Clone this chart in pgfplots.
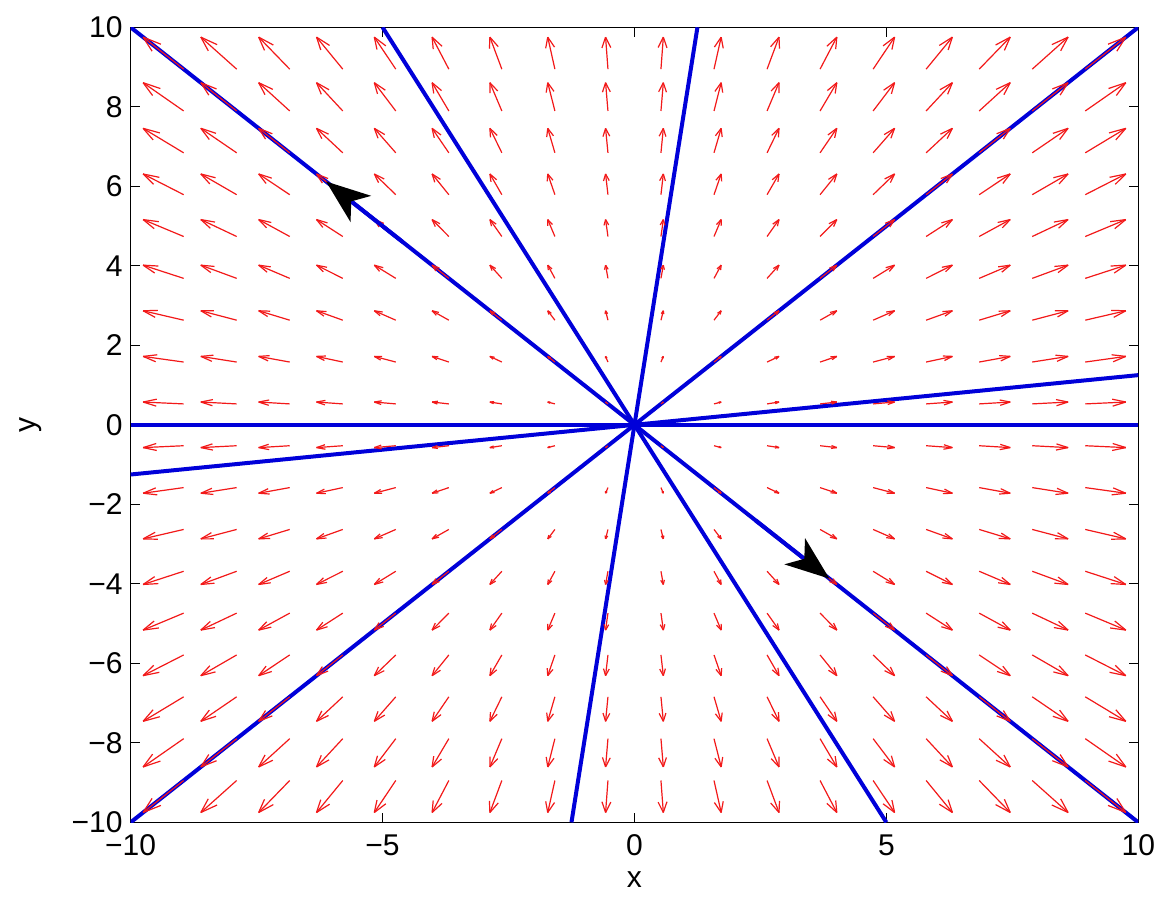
\documentclass[border=0pt]{standalone}
\usepackage{pgfplots}
\pgfplotsset{compat=1.18}
\usepackage{pgfplotstable}
\usepackage{fontspec}
\setmainfont{Liberation Sans}
\usetikzlibrary{arrows.meta}
\definecolor{trajblue}{rgb}{0.0,0.0,0.85}
\definecolor{quivred}{rgb}{0.95,0.1,0.1}

\pgfplotstableread{
x y u v
-8.947 -8.947 -0.805 -0.805
-7.895 -8.947 -0.711 -0.805
-6.842 -8.947 -0.616 -0.805
-5.789 -8.947 -0.521 -0.805
-4.737 -8.947 -0.426 -0.805
-3.684 -8.947 -0.332 -0.805
-2.632 -8.947 -0.237 -0.805
-1.579 -8.947 -0.142 -0.805
-0.526 -8.947 -0.047 -0.805
0.526 -8.947 0.047 -0.805
1.579 -8.947 0.142 -0.805
2.632 -8.947 0.237 -0.805
3.684 -8.947 0.332 -0.805
4.737 -8.947 0.426 -0.805
5.789 -8.947 0.521 -0.805
6.842 -8.947 0.616 -0.805
7.895 -8.947 0.711 -0.805
8.947 -8.947 0.805 -0.805
-8.947 -7.895 -0.805 -0.711
-7.895 -7.895 -0.711 -0.711
-6.842 -7.895 -0.616 -0.711
-5.789 -7.895 -0.521 -0.711
-4.737 -7.895 -0.426 -0.711
-3.684 -7.895 -0.332 -0.711
-2.632 -7.895 -0.237 -0.711
-1.579 -7.895 -0.142 -0.711
-0.526 -7.895 -0.047 -0.711
0.526 -7.895 0.047 -0.711
1.579 -7.895 0.142 -0.711
2.632 -7.895 0.237 -0.711
3.684 -7.895 0.332 -0.711
4.737 -7.895 0.426 -0.711
5.789 -7.895 0.521 -0.711
6.842 -7.895 0.616 -0.711
7.895 -7.895 0.711 -0.711
8.947 -7.895 0.805 -0.711
-8.947 -6.842 -0.805 -0.616
-7.895 -6.842 -0.711 -0.616
-6.842 -6.842 -0.616 -0.616
-5.789 -6.842 -0.521 -0.616
-4.737 -6.842 -0.426 -0.616
-3.684 -6.842 -0.332 -0.616
-2.632 -6.842 -0.237 -0.616
-1.579 -6.842 -0.142 -0.616
-0.526 -6.842 -0.047 -0.616
0.526 -6.842 0.047 -0.616
1.579 -6.842 0.142 -0.616
2.632 -6.842 0.237 -0.616
3.684 -6.842 0.332 -0.616
4.737 -6.842 0.426 -0.616
5.789 -6.842 0.521 -0.616
6.842 -6.842 0.616 -0.616
7.895 -6.842 0.711 -0.616
8.947 -6.842 0.805 -0.616
-8.947 -5.789 -0.805 -0.521
-7.895 -5.789 -0.711 -0.521
-6.842 -5.789 -0.616 -0.521
-5.789 -5.789 -0.521 -0.521
-4.737 -5.789 -0.426 -0.521
-3.684 -5.789 -0.332 -0.521
-2.632 -5.789 -0.237 -0.521
-1.579 -5.789 -0.142 -0.521
-0.526 -5.789 -0.047 -0.521
0.526 -5.789 0.047 -0.521
1.579 -5.789 0.142 -0.521
2.632 -5.789 0.237 -0.521
3.684 -5.789 0.332 -0.521
4.737 -5.789 0.426 -0.521
5.789 -5.789 0.521 -0.521
6.842 -5.789 0.616 -0.521
7.895 -5.789 0.711 -0.521
8.947 -5.789 0.805 -0.521
-8.947 -4.737 -0.805 -0.426
-7.895 -4.737 -0.711 -0.426
-6.842 -4.737 -0.616 -0.426
-5.789 -4.737 -0.521 -0.426
-4.737 -4.737 -0.426 -0.426
-3.684 -4.737 -0.332 -0.426
-2.632 -4.737 -0.237 -0.426
-1.579 -4.737 -0.142 -0.426
-0.526 -4.737 -0.047 -0.426
0.526 -4.737 0.047 -0.426
1.579 -4.737 0.142 -0.426
2.632 -4.737 0.237 -0.426
3.684 -4.737 0.332 -0.426
4.737 -4.737 0.426 -0.426
5.789 -4.737 0.521 -0.426
6.842 -4.737 0.616 -0.426
7.895 -4.737 0.711 -0.426
8.947 -4.737 0.805 -0.426
-8.947 -3.684 -0.805 -0.332
-7.895 -3.684 -0.711 -0.332
-6.842 -3.684 -0.616 -0.332
-5.789 -3.684 -0.521 -0.332
-4.737 -3.684 -0.426 -0.332
-3.684 -3.684 -0.332 -0.332
-2.632 -3.684 -0.237 -0.332
-1.579 -3.684 -0.142 -0.332
-0.526 -3.684 -0.047 -0.332
0.526 -3.684 0.047 -0.332
1.579 -3.684 0.142 -0.332
2.632 -3.684 0.237 -0.332
3.684 -3.684 0.332 -0.332
4.737 -3.684 0.426 -0.332
5.789 -3.684 0.521 -0.332
6.842 -3.684 0.616 -0.332
7.895 -3.684 0.711 -0.332
8.947 -3.684 0.805 -0.332
-8.947 -2.632 -0.805 -0.237
-7.895 -2.632 -0.711 -0.237
-6.842 -2.632 -0.616 -0.237
-5.789 -2.632 -0.521 -0.237
-4.737 -2.632 -0.426 -0.237
-3.684 -2.632 -0.332 -0.237
-2.632 -2.632 -0.237 -0.237
-1.579 -2.632 -0.142 -0.237
-0.526 -2.632 -0.047 -0.237
0.526 -2.632 0.047 -0.237
1.579 -2.632 0.142 -0.237
2.632 -2.632 0.237 -0.237
3.684 -2.632 0.332 -0.237
4.737 -2.632 0.426 -0.237
5.789 -2.632 0.521 -0.237
6.842 -2.632 0.616 -0.237
7.895 -2.632 0.711 -0.237
8.947 -2.632 0.805 -0.237
-8.947 -1.579 -0.805 -0.142
-7.895 -1.579 -0.711 -0.142
-6.842 -1.579 -0.616 -0.142
-5.789 -1.579 -0.521 -0.142
-4.737 -1.579 -0.426 -0.142
-3.684 -1.579 -0.332 -0.142
-2.632 -1.579 -0.237 -0.142
-1.579 -1.579 -0.142 -0.142
-0.526 -1.579 -0.047 -0.142
0.526 -1.579 0.047 -0.142
1.579 -1.579 0.142 -0.142
2.632 -1.579 0.237 -0.142
3.684 -1.579 0.332 -0.142
4.737 -1.579 0.426 -0.142
5.789 -1.579 0.521 -0.142
6.842 -1.579 0.616 -0.142
7.895 -1.579 0.711 -0.142
8.947 -1.579 0.805 -0.142
-8.947 -0.526 -0.805 -0.047
-7.895 -0.526 -0.711 -0.047
-6.842 -0.526 -0.616 -0.047
-5.789 -0.526 -0.521 -0.047
-4.737 -0.526 -0.426 -0.047
-3.684 -0.526 -0.332 -0.047
-2.632 -0.526 -0.237 -0.047
-1.579 -0.526 -0.142 -0.047
-0.526 -0.526 -0.047 -0.047
0.526 -0.526 0.047 -0.047
1.579 -0.526 0.142 -0.047
2.632 -0.526 0.237 -0.047
3.684 -0.526 0.332 -0.047
4.737 -0.526 0.426 -0.047
5.789 -0.526 0.521 -0.047
6.842 -0.526 0.616 -0.047
7.895 -0.526 0.711 -0.047
8.947 -0.526 0.805 -0.047
-8.947 0.526 -0.805 0.047
-7.895 0.526 -0.711 0.047
-6.842 0.526 -0.616 0.047
-5.789 0.526 -0.521 0.047
-4.737 0.526 -0.426 0.047
-3.684 0.526 -0.332 0.047
-2.632 0.526 -0.237 0.047
-1.579 0.526 -0.142 0.047
-0.526 0.526 -0.047 0.047
0.526 0.526 0.047 0.047
1.579 0.526 0.142 0.047
2.632 0.526 0.237 0.047
3.684 0.526 0.332 0.047
4.737 0.526 0.426 0.047
5.789 0.526 0.521 0.047
6.842 0.526 0.616 0.047
7.895 0.526 0.711 0.047
8.947 0.526 0.805 0.047
-8.947 1.579 -0.805 0.142
-7.895 1.579 -0.711 0.142
-6.842 1.579 -0.616 0.142
-5.789 1.579 -0.521 0.142
-4.737 1.579 -0.426 0.142
-3.684 1.579 -0.332 0.142
-2.632 1.579 -0.237 0.142
-1.579 1.579 -0.142 0.142
-0.526 1.579 -0.047 0.142
0.526 1.579 0.047 0.142
1.579 1.579 0.142 0.142
2.632 1.579 0.237 0.142
3.684 1.579 0.332 0.142
4.737 1.579 0.426 0.142
5.789 1.579 0.521 0.142
6.842 1.579 0.616 0.142
7.895 1.579 0.711 0.142
8.947 1.579 0.805 0.142
-8.947 2.632 -0.805 0.237
-7.895 2.632 -0.711 0.237
-6.842 2.632 -0.616 0.237
-5.789 2.632 -0.521 0.237
-4.737 2.632 -0.426 0.237
-3.684 2.632 -0.332 0.237
-2.632 2.632 -0.237 0.237
-1.579 2.632 -0.142 0.237
-0.526 2.632 -0.047 0.237
0.526 2.632 0.047 0.237
1.579 2.632 0.142 0.237
2.632 2.632 0.237 0.237
3.684 2.632 0.332 0.237
4.737 2.632 0.426 0.237
5.789 2.632 0.521 0.237
6.842 2.632 0.616 0.237
7.895 2.632 0.711 0.237
8.947 2.632 0.805 0.237
-8.947 3.684 -0.805 0.332
-7.895 3.684 -0.711 0.332
-6.842 3.684 -0.616 0.332
-5.789 3.684 -0.521 0.332
-4.737 3.684 -0.426 0.332
-3.684 3.684 -0.332 0.332
-2.632 3.684 -0.237 0.332
-1.579 3.684 -0.142 0.332
-0.526 3.684 -0.047 0.332
0.526 3.684 0.047 0.332
1.579 3.684 0.142 0.332
2.632 3.684 0.237 0.332
3.684 3.684 0.332 0.332
4.737 3.684 0.426 0.332
5.789 3.684 0.521 0.332
6.842 3.684 0.616 0.332
7.895 3.684 0.711 0.332
8.947 3.684 0.805 0.332
-8.947 4.737 -0.805 0.426
-7.895 4.737 -0.711 0.426
-6.842 4.737 -0.616 0.426
-5.789 4.737 -0.521 0.426
-4.737 4.737 -0.426 0.426
-3.684 4.737 -0.332 0.426
-2.632 4.737 -0.237 0.426
-1.579 4.737 -0.142 0.426
-0.526 4.737 -0.047 0.426
0.526 4.737 0.047 0.426
1.579 4.737 0.142 0.426
2.632 4.737 0.237 0.426
3.684 4.737 0.332 0.426
4.737 4.737 0.426 0.426
5.789 4.737 0.521 0.426
6.842 4.737 0.616 0.426
7.895 4.737 0.711 0.426
8.947 4.737 0.805 0.426
-8.947 5.789 -0.805 0.521
-7.895 5.789 -0.711 0.521
-6.842 5.789 -0.616 0.521
-5.789 5.789 -0.521 0.521
-4.737 5.789 -0.426 0.521
-3.684 5.789 -0.332 0.521
-2.632 5.789 -0.237 0.521
-1.579 5.789 -0.142 0.521
-0.526 5.789 -0.047 0.521
0.526 5.789 0.047 0.521
1.579 5.789 0.142 0.521
2.632 5.789 0.237 0.521
3.684 5.789 0.332 0.521
4.737 5.789 0.426 0.521
5.789 5.789 0.521 0.521
6.842 5.789 0.616 0.521
7.895 5.789 0.711 0.521
8.947 5.789 0.805 0.521
-8.947 6.842 -0.805 0.616
-7.895 6.842 -0.711 0.616
-6.842 6.842 -0.616 0.616
-5.789 6.842 -0.521 0.616
-4.737 6.842 -0.426 0.616
-3.684 6.842 -0.332 0.616
-2.632 6.842 -0.237 0.616
-1.579 6.842 -0.142 0.616
-0.526 6.842 -0.047 0.616
0.526 6.842 0.047 0.616
1.579 6.842 0.142 0.616
2.632 6.842 0.237 0.616
3.684 6.842 0.332 0.616
4.737 6.842 0.426 0.616
5.789 6.842 0.521 0.616
6.842 6.842 0.616 0.616
7.895 6.842 0.711 0.616
8.947 6.842 0.805 0.616
-8.947 7.895 -0.805 0.711
-7.895 7.895 -0.711 0.711
-6.842 7.895 -0.616 0.711
-5.789 7.895 -0.521 0.711
-4.737 7.895 -0.426 0.711
-3.684 7.895 -0.332 0.711
-2.632 7.895 -0.237 0.711
-1.579 7.895 -0.142 0.711
-0.526 7.895 -0.047 0.711
0.526 7.895 0.047 0.711
1.579 7.895 0.142 0.711
2.632 7.895 0.237 0.711
3.684 7.895 0.332 0.711
4.737 7.895 0.426 0.711
5.789 7.895 0.521 0.711
6.842 7.895 0.616 0.711
7.895 7.895 0.711 0.711
8.947 7.895 0.805 0.711
-8.947 8.947 -0.805 0.805
-7.895 8.947 -0.711 0.805
-6.842 8.947 -0.616 0.805
-5.789 8.947 -0.521 0.805
-4.737 8.947 -0.426 0.805
-3.684 8.947 -0.332 0.805
-2.632 8.947 -0.237 0.805
-1.579 8.947 -0.142 0.805
-0.526 8.947 -0.047 0.805
0.526 8.947 0.047 0.805
1.579 8.947 0.142 0.805
2.632 8.947 0.237 0.805
3.684 8.947 0.332 0.805
4.737 8.947 0.426 0.805
5.789 8.947 0.521 0.805
6.842 8.947 0.616 0.805
7.895 8.947 0.711 0.805
8.947 8.947 0.805 0.805
}\field

\begin{document}
\begin{tikzpicture}
\begin{axis}[
  scale only axis,
  width=503.8pt, height=397.5pt,
  xmin=-10, xmax=10, ymin=-10, ymax=10,
  font=\fontsize{15}{18}\selectfont,
  tick align=inside,
  major tick length=4.7pt,
  tick style={black, line width=0.5pt},
  axis line style={line width=0.6pt},
  xtick={-10,-5,0,5,10},
  xticklabels={−10,−5,0,5,10},
  ytick={-10,-8,-6,-4,-2,0,2,4,6,8,10},
  yticklabels={−10,−8,−6,−4,−2,0,2,4,6,8,10},
  xticklabel style={yshift=-2.5pt},
  yticklabel style={xshift=-0.5pt},
  xlabel={x},
  ylabel={y},
  xlabel style={at={(axis description cs:0.5,0)}, anchor=north, yshift=-21pt},
  ylabel style={at={(axis description cs:0,0.5)}, anchor=south, yshift=41pt},
  clip=true,
]
% trajectories
\addplot[trajblue, line width=2pt] coordinates {(-10,0) (10,0)};
\addplot[trajblue, line width=2pt] coordinates {(-10,-10) (10,10)};
\addplot[trajblue, line width=2pt] coordinates {(-10,10) (10,-10)};
\addplot[trajblue, line width=2pt] coordinates {(-5,10) (5,-10)};
\addplot[trajblue, line width=2pt] coordinates {(-1.25,-10) (1.25,10)};
\addplot[trajblue, line width=2pt] coordinates {(-10,-1.25) (10,1.25)};
% vector field: shafts
\addplot[quivred, line width=0.6pt, quiver={u=\thisrow{u}, v=\thisrow{v}}]
  table[x=x, y=y] {\field};
% vector field: arrow head barbs
\addplot[quivred, line width=0.6pt,
  quiver={u={-0.33*(\thisrow{u}+0.33*\thisrow{v})}, v={-0.33*(\thisrow{v}-0.33*\thisrow{u})}}]
  table[x expr={\thisrow{x}+\thisrow{u}}, y expr={\thisrow{y}+\thisrow{v}}] {\field};
\addplot[quivred, line width=0.6pt,
  quiver={u={-0.33*(\thisrow{u}-0.33*\thisrow{v})}, v={-0.33*(\thisrow{v}+0.33*\thisrow{u})}}]
  table[x expr={\thisrow{x}+\thisrow{u}}, y expr={\thisrow{y}+\thisrow{v}}] {\field};
% direction arrows
\addplot[trajblue, line width=2pt, -{Stealth[length=22pt, width=16.5pt, inset=6pt, color=black]}]
  coordinates {(-4.6,4.6) (-6.12,6.12)};
\addplot[trajblue, line width=2pt, -{Stealth[length=22pt, width=16.5pt, inset=6pt, color=black]}]
  coordinates {(2.4,-2.4) (3.87,-3.87)};
\end{axis}
\pgfresetboundingbox
\path ([shift={(-65.3pt,-36.85pt)}]current axis.south west) rectangle ([shift={(11.85pt,13.65pt)}]current axis.north east);
\end{tikzpicture}
\end{document}
